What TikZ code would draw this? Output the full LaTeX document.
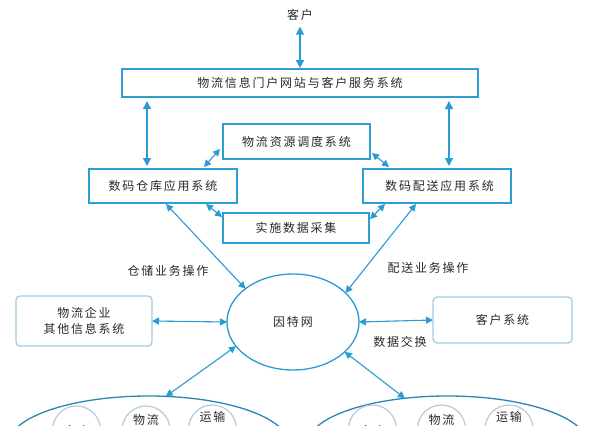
\documentclass[tikz,border=0pt]{standalone}
\usepackage{fontspec}
\newfontfamily\cjk[LetterSpace=15]{Noto Sans CJK SC}
\usetikzlibrary{arrows.meta,shapes.geometric,calc}
\definecolor{lineblue}{HTML}{2A9BD3}
\definecolor{boxblue}{HTML}{2E9DD2}
\definecolor{softblue}{HTML}{9FCFE6}
\definecolor{circgray}{HTML}{B5CCD6}
\definecolor{darkring}{HTML}{2A86B6}
\definecolor{txt}{HTML}{2A2A2A}
\tikzset{
  x=1pt, y=-1pt,
  every node/.style={font=\cjk\fontsize{12}{16}\selectfont, text=txt, inner sep=0pt, outer sep=0pt},
  box/.style={draw=boxblue, line width=1.6pt},
  softbox/.style={draw=softblue, line width=1.3pt, rounded corners=4pt, align=center},
  dbl/.style={draw=lineblue, line width=1.3pt, {Triangle[width=8pt,length=8pt]}-{Triangle[width=8pt,length=8pt]}},
  dbls/.style={draw=lineblue, line width=1.1pt, {Triangle[width=7pt,length=7pt]}-{Triangle[width=7pt,length=7pt]}},
  net/.style={draw=lineblue, line width=1.3pt, ellipse},
  ring/.style={draw=darkring, line width=1.3pt, ellipse, minimum width=280pt, minimum height=96pt},
  circ/.style={draw=circgray, line width=1.2pt, circle, minimum size=48pt},
  lbl/.style={}
}
\begin{document}
\begin{tikzpicture}
\useasboundingbox (0,0) rectangle (596,425);
\clip (0,0) rectangle (596,425);
\fill[white] (0,0) rectangle (596,425);

% top
\node (client) at (300,15) {客户};
\node[box, minimum width=356pt, minimum height=28pt] (portal) at (300,83) {物流信息门户网站与客户服务系统};
\node[box, minimum width=147pt, minimum height=35pt] (res) at (296.5,141.5) {物流资源调度系统};
\node[box, minimum width=148pt, minimum height=34pt] (wh) at (163,186) {数码仓库应用系统};
\node[box, minimum width=148pt, minimum height=34pt] (dist) at (437,186) {\hspace{5pt}数码配送应用系统};
\node[box, minimum width=146pt, minimum height=30pt] (coll) at (296,228) {实施数据采集};

% middle
\node[net, minimum width=132pt, minimum height=96pt] (net) at (293,322) {因特网};
\node[softbox, minimum width=136pt, minimum height=50pt] (other) at (84,321) {物流企业\\其他信息系统};
\node[softbox, minimum width=139pt, minimum height=46pt] (cust) at (502.5,320) {客户系统};

% labels
\node[lbl] (l1) at (168,271) {仓储业务操作};
\node[lbl] (l2) at (428,268) {配送业务操作};
\node[lbl] (l3) at (400,342) {数据交换};

% bottom groups
\node[ring] (bl) at (148.5,444) {};
\node[ring] (br) at (447.5,444) {};
\node[circ] (c1) at (76.5,430) {};
\node[circ] (c2) at (146,430) {};
\node[circ] (c3) at (212.5,429) {};
\node[circ] (c4) at (372.5,429) {};
\node[circ] (c5) at (441.5,429) {};
\node[circ] (c6) at (509,429) {};
\node (t1) at (c1 |- 0,431) {仓库};
\node (t2) at (c2 |- 0,420) {物流};
\node (t3) at (c3 |- 0,417) {运输};
\node (t4) at (c4 |- 0,431) {仓库};
\node (t5) at (c5 |- 0,420) {物流};
\node (t6) at (c6 |- 0,417) {运输};

% connectors
\draw[dbl, shorten <=6pt, shorten >=1pt] (client.south) -- (portal.north);
\draw[dbl, shorten <=4pt, shorten >=3pt] ([xshift=58pt]wh.north west |- portal.south) -- ([xshift=58pt]wh.north west);
\draw[dbl, shorten <=4pt, shorten >=3pt] ([xshift=86pt]dist.north west |- portal.south) -- ([xshift=86pt]dist.north west);

\draw[dbls] ($(wh.north east)+(-33,-2)$) -- ($(res.south west)+(-3,-10)$);
\draw[dbls] ($(res.south east)+(2,-6)$) -- ($(dist.north west)+(26,-2)$);
\draw[dbls] ($(wh.south east)+(-31,1)$) -- ($(coll.north west)+(-1,4)$);
\draw[dbls] ($(coll.north east)+(1,6)$) -- ($(dist.south west)+(22,1)$);

\draw[dbls] ($(wh.south west)+(77,1)$) -- (net.145);
\draw[dbls] ($(dist.south west)+(53,1)$) -- (net.29);
\draw[dbls] (other.east) -- (net.west);
\draw[dbls] (net.east) -- (cust.west);
\draw[dbls] (net.203) -- (bl.70);
\draw[dbls] (net.330) -- (br.133);
\end{tikzpicture}
\end{document}
